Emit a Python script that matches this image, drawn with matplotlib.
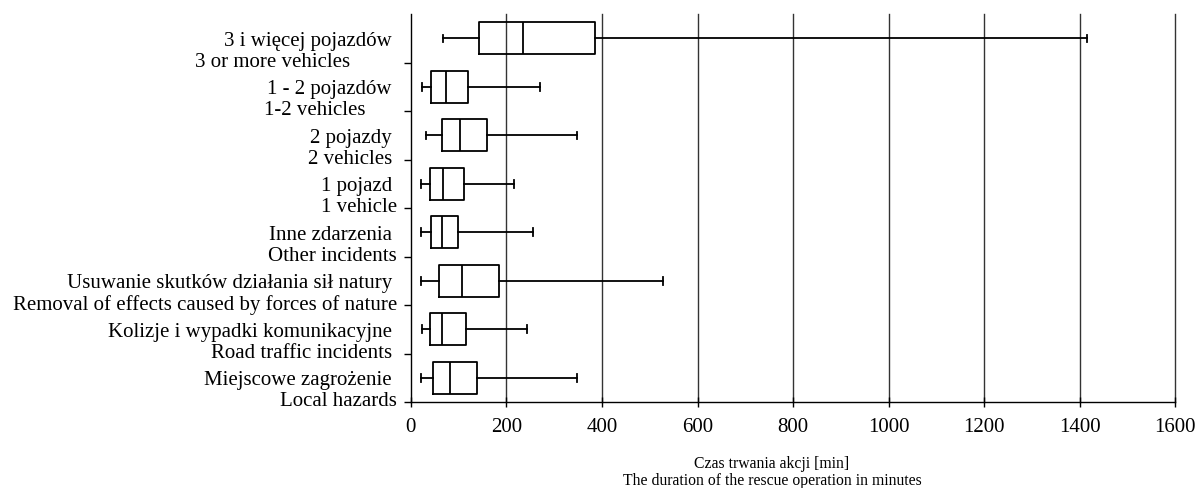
import matplotlib
matplotlib.use("Agg")
import matplotlib.pyplot as plt

# categories listed bottom -> top
labels_pl = ["Miejscowe zagrożenie ", "Kolizje i wypadki komunikacyjne ",
             "Usuwanie skutków działania sił natury ", "Inne zdarzenia ",
             "1 pojazd ", "2 pojazdy ", "1 - 2 pojazdów ", "3 i więcej pojazdów "]
labels_en = ["Local hazards", "Road traffic incidents ",
             "Removal of effects caused by forces of nature", "Other incidents",
             "1 vehicle", "2 vehicles ", "1-2 vehicles      ", "3 or more vehicles         "]

whisk_lo = [22, 24, 22, 22, 22, 31, 23, 68]
q1       = [47, 40, 58, 43, 40, 65, 43, 143]
median   = [81, 66, 107, 65, 68, 103, 74, 234]
q3       = [138, 116, 185, 98, 112, 160, 120, 385]
whisk_hi = [347, 243, 528, 255, 216, 348, 270, 1415]

xticks = [0, 200, 400, 600, 800, 1000, 1200, 1400, 1600]
xlabel_pl = "Czas trwania akcji [min]"
xlabel_en = "The duration of the rescue operation in minutes"

plt.rcParams['font.family'] = ['Liberation Serif', 'DejaVu Serif']

fig = plt.figure(figsize=(11.98, 4.88), dpi=100)
ax = fig.add_axes([0.343, 0.176, 0.638, 0.795])

stats = []
for i in range(len(median)):
    stats.append(dict(whislo=whisk_lo[i], q1=q1[i], med=median[i], q3=q3[i],
                      whishi=whisk_hi[i], fliers=[]))

positions = list(range(len(median)))
lw = 1.3
ax.bxp(stats, positions=positions, vert=False, widths=0.66, capwidths=0.16,
       showfliers=False, patch_artist=False,
       boxprops=dict(color='black', linewidth=lw),
       medianprops=dict(color='black', linewidth=lw),
       whiskerprops=dict(color='black', linewidth=lw),
       capprops=dict(color='black', linewidth=lw), zorder=3)

ax.set_xlim(0, 1600)
ax.set_ylim(-0.5, len(median) - 0.5)
ax.set_xticks(xticks)
ax.set_xticklabels([str(t) for t in xticks], fontsize=15)
ax.set_yticks([p - 0.5 for p in positions])
ax.set_yticklabels([])
ax.tick_params(axis='y', direction='out', length=5, width=1)
ax.tick_params(axis='x', direction='inout', length=7, width=1, pad=8)

for t in xticks[1:]:
    ax.axvline(t, color='#333333', linewidth=1, zorder=1, clip_on=False)

ax.spines['top'].set_visible(False)
ax.spines['right'].set_visible(False)
ax.spines['left'].set_linewidth(1)
ax.spines['bottom'].set_linewidth(1)

trans = ax.get_yaxis_transform()
for i, (pl, en) in enumerate(zip(labels_pl, labels_en)):
    ax.text(-0.018, i - 0.5 + 0.44, pl, transform=trans, ha='right', va='center', fontsize=15)
    ax.text(-0.018, i - 0.5 + 0.01, en, transform=trans, ha='right', va='center', fontsize=15)

fig.text(772 / 1198, 1 - 464 / 488, xlabel_pl, ha='center', va='center', fontsize=11.3)
fig.text(772 / 1198, 1 - 481 / 488, xlabel_en, ha='center', va='center', fontsize=11.3)

fig.savefig("out.png", dpi=100)
